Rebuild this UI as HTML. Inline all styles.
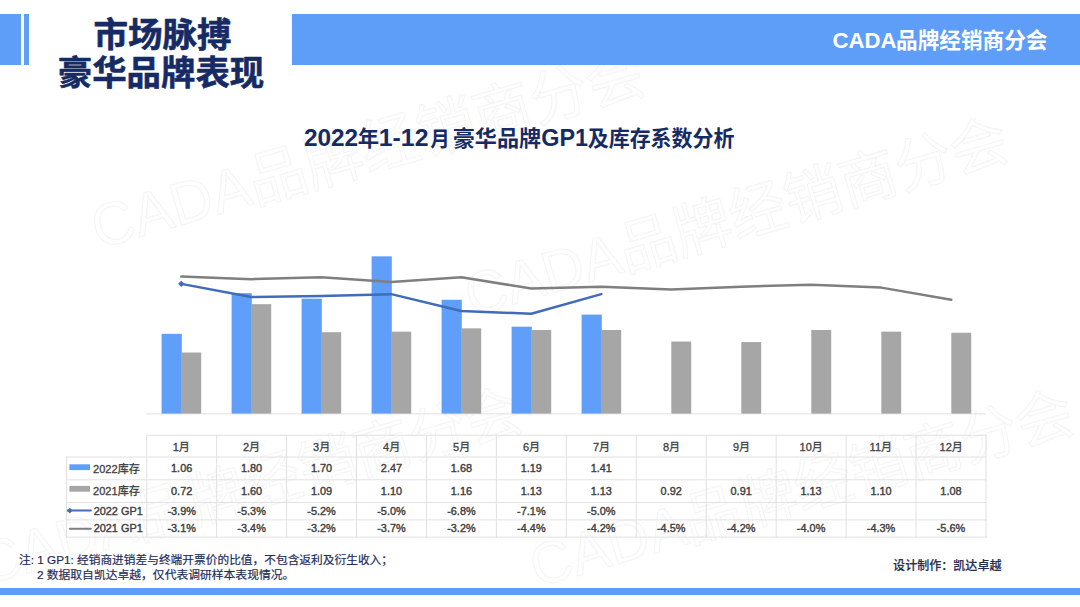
<!DOCTYPE html>
<html lang="zh-CN">
<head>
<meta charset="utf-8">
<title>市场脉搏 豪华品牌表现</title>
<style>
html,body{margin:0;padding:0;background:#fff;}
body{width:1080px;height:607px;overflow:hidden;position:relative;font-family:"Liberation Sans",sans-serif;}
.page{position:absolute;left:0;top:0;width:1080px;height:607px;background:#fff;overflow:hidden;}
.blk{position:absolute;background:#5f9ef8;}
svg.ov{position:absolute;left:0;top:0;}
svg.ov text{font-family:"Liberation Sans","Noto Sans CJK SC",sans-serif;}
.dt{position:absolute;left:66.5px;top:435.3px;display:grid;grid-template-columns:80.20px repeat(12,69.94px);grid-template-rows:21.70px 22.80px 22.70px 17.40px 17.20px;font-size:10.9px;line-height:12px;color:#404040;-webkit-text-stroke:0.4px #404040;white-space:nowrap;}
.dt>div{display:flex;align-items:center;justify-content:center;padding-bottom:0.9px;box-sizing:border-box;}
.dt>div.lab{justify-content:flex-start;padding-left:27.2px;}
</style>
</head>
<body>
<div class="page">
<svg class="ov" width="1080" height="607" viewBox="0 0 1080 607" aria-hidden="true">
<text transform="translate(98.6 248.9) rotate(-16)" x="0" y="0" font-size="60" fill="none" stroke="#f5f5f5" stroke-width="1.2" textLength="572.5" lengthAdjust="spacingAndGlyphs">CADA品牌经销商分会</text>
<text transform="translate(472 316.8) rotate(-16.4)" x="0" y="0" font-size="59" fill="none" stroke="#f5f5f5" stroke-width="1.18" textLength="563" lengthAdjust="spacingAndGlyphs">CADA品牌经销商分会</text>
<text transform="translate(537 587.6) rotate(-16.2)" x="0" y="0" font-size="59" fill="none" stroke="#f5f5f5" stroke-width="1.18" textLength="563" lengthAdjust="spacingAndGlyphs">CADA品牌经销商分会</text>
<text transform="translate(-14 585) rotate(-16.2)" x="0" y="0" font-size="59" fill="none" stroke="#f5f5f5" stroke-width="1.18" textLength="563" lengthAdjust="spacingAndGlyphs">CADA品牌经销商分会</text>
</svg>
<div class="blk" style="left:0;top:14.2px;width:21.1px;height:50.4px"></div>
<div class="blk" style="left:24.1px;top:14.2px;width:5.2px;height:50.4px"></div>
<div class="blk" style="left:292.2px;top:14.2px;width:787.8px;height:50.4px"></div>
<div class="blk" style="left:0;top:587.8px;width:1080px;height:7px"></div>
<svg class="ov" width="1080" height="607" viewBox="0 0 1080 607">
<text x="93.42" y="46.55" font-size="34.5" font-weight="bold" fill="#162a64" stroke="#162a64" stroke-width="0.6" stroke-linejoin="round" textLength="138" lengthAdjust="spacingAndGlyphs">市场脉搏</text>
<text x="57.78" y="84.85" font-size="34.41" font-weight="bold" fill="#162a64" stroke="#162a64" stroke-width="0.6" stroke-linejoin="round" textLength="206.5" lengthAdjust="spacingAndGlyphs">豪华品牌表现</text>
<text x="832.5" y="47.7" font-size="22.5" font-weight="bold" fill="#ffffff" textLength="64" lengthAdjust="spacingAndGlyphs">CADA</text>
<text x="896.09" y="47.5" font-size="22" font-weight="bold" fill="#ffffff" textLength="151.3" lengthAdjust="spacingAndGlyphs">品牌经销商分会</text>
<text x="303.9" y="146.2" font-size="23.5" font-weight="bold" fill="#162a64" textLength="54.3" lengthAdjust="spacingAndGlyphs">2022</text>
<text x="357.81" y="146" font-size="21.3" font-weight="bold" fill="#162a64">年</text>
<text x="378.69" y="146.2" font-size="23.5" font-weight="bold" fill="#162a64" textLength="49.8" lengthAdjust="spacingAndGlyphs">1-12</text>
<text x="430.19" y="146" font-size="21" font-weight="bold" fill="#162a64" textLength="19.5" lengthAdjust="spacingAndGlyphs">月</text>
<text x="452.73" y="146" font-size="21.6" font-weight="bold" fill="#162a64" textLength="88.4" lengthAdjust="spacingAndGlyphs">豪华品牌</text>
<text x="541.32" y="146.2" font-size="23.5" font-weight="bold" fill="#162a64" textLength="46.8" lengthAdjust="spacingAndGlyphs">GP1</text>
<text x="587.68" y="146" font-size="21.2" font-weight="bold" fill="#162a64" textLength="146.9" lengthAdjust="spacingAndGlyphs">及库存系数分析</text>
<g><rect x="146.5" y="413.4" width="839.5" height="1" fill="#e1e1e1"/><rect x="161.6" y="333.84" width="20.2" height="79.76" fill="#5f9ef9"/><rect x="231.6" y="293.17" width="20.2" height="120.43" fill="#5f9ef9"/><rect x="301.6" y="298.67" width="20.2" height="114.93" fill="#5f9ef9"/><rect x="371.6" y="256.35" width="20.2" height="157.25" fill="#5f9ef9"/><rect x="441.6" y="299.77" width="20.2" height="113.83" fill="#5f9ef9"/><rect x="511.6" y="326.7" width="20.2" height="86.9" fill="#5f9ef9"/><rect x="581.6" y="314.61" width="20.2" height="98.99" fill="#5f9ef9"/><rect x="181.3" y="352.53" width="19.9" height="61.07" fill="#a6a6a6"/><rect x="251.3" y="304.16" width="19.9" height="109.44" fill="#a6a6a6"/><rect x="321.3" y="332.19" width="19.9" height="81.41" fill="#a6a6a6"/><rect x="391.3" y="331.64" width="19.9" height="81.96" fill="#a6a6a6"/><rect x="461.3" y="328.35" width="19.9" height="85.25" fill="#a6a6a6"/><rect x="531.3" y="330" width="19.9" height="83.6" fill="#a6a6a6"/><rect x="601.3" y="330" width="19.9" height="83.6" fill="#a6a6a6"/><rect x="671.3" y="341.54" width="19.9" height="72.06" fill="#a6a6a6"/><rect x="741.3" y="342.09" width="19.9" height="71.51" fill="#a6a6a6"/><rect x="811.3" y="330" width="19.9" height="83.6" fill="#a6a6a6"/><rect x="881.3" y="331.64" width="19.9" height="81.96" fill="#a6a6a6"/><rect x="951.3" y="332.74" width="19.9" height="80.86" fill="#a6a6a6"/><polyline points="181.3,276.38 251.3,279.19 321.3,277.32 391.3,282 461.3,277.32 531.3,288.54 601.3,286.67 671.3,289.48 741.3,286.67 811.3,284.8 881.3,287.61 951.3,299.76" fill="none" stroke="#7f7f7f" stroke-width="2.5" stroke-linejoin="round" stroke-linecap="round"/><polyline points="181.3,283.87 251.3,296.95 321.3,296.02 391.3,294.15 461.3,310.98 531.3,313.78 601.3,294.15" fill="none" stroke="#406cba" stroke-width="2.5" stroke-linejoin="round" stroke-linecap="round"/><path d="M178.1 283.87L181.3 280.67L184.5 283.87L181.3 287.06Z" fill="#406cba"/></g>
<g><rect x="69.4" y="464.3" width="20.6" height="5.8" fill="#5f9ef9"/><rect x="69.4" y="485.9" width="20.6" height="5.8" fill="#a6a6a6"/><path d="M67.4 510.6H90.8" stroke="#406cba" stroke-width="2" stroke-linecap="round"/><path d="M67 510.6L69.8 507.8L72.6 510.6L69.8 513.4Z" fill="#406cba"/><path d="M69.8 528.7H90.8" stroke="#7f7f7f" stroke-width="2" stroke-linecap="round"/></g>
<g fill="#e1e1e1"><rect x="146.2" y="434.8" width="1" height="102.8"/><rect x="216.14" y="434.8" width="1" height="102.8"/><rect x="286.08" y="434.8" width="1" height="102.8"/><rect x="356.02" y="434.8" width="1" height="102.8"/><rect x="425.96" y="434.8" width="1" height="102.8"/><rect x="495.9" y="434.8" width="1" height="102.8"/><rect x="565.84" y="434.8" width="1" height="102.8"/><rect x="635.78" y="434.8" width="1" height="102.8"/><rect x="705.72" y="434.8" width="1" height="102.8"/><rect x="775.66" y="434.8" width="1" height="102.8"/><rect x="845.6" y="434.8" width="1" height="102.8"/><rect x="915.54" y="434.8" width="1" height="102.8"/><rect x="985.48" y="434.8" width="1" height="102.8"/><rect x="66" y="456.5" width="1" height="81.1"/><rect x="146.2" y="434.8" width="840.28" height="1"/><rect x="66" y="456.5" width="920.48" height="1"/><rect x="66" y="479.3" width="920.48" height="1"/><rect x="66" y="502" width="920.48" height="1"/><rect x="66" y="519.4" width="920.48" height="1"/><rect x="66" y="536.6" width="920.48" height="1"/></g>
<g font-size="11" fill="#404040" stroke="#404040" stroke-width="0.3" stroke-linejoin="round">
<text x="172.73" y="450.9">1月</text>
<text x="242.99" y="450.9">2月</text>
<text x="313.05" y="450.9">3月</text>
<text x="383.09" y="450.9">4月</text>
<text x="453.05" y="450.9">5月</text>
<text x="522.91" y="450.9">6月</text>
<text x="592.92" y="450.9">7月</text>
<text x="662.95" y="450.9">8月</text>
<text x="732.97" y="450.9">9月</text>
<text x="799.6" y="450.9">10月</text>
<text x="869.6" y="450.9">11月</text>
<text x="939.6" y="450.9">12月</text>
<text x="93.09" y="472.57" textLength="46.7" lengthAdjust="spacingAndGlyphs">2022库存</text>
<text x="93.09" y="495.17" textLength="46.7" lengthAdjust="spacingAndGlyphs">2021库存</text>
</g>
<text x="19.1" y="563.94" font-size="11.81" fill="#1e2c5a" stroke="#1e2c5a" stroke-width="0.19" stroke-linejoin="round" textLength="373.9" lengthAdjust="spacingAndGlyphs">注: 1 GP1: 经销商进销差与终端开票价的比值，不包含返利及衍生收入；</text>
<text x="36.93" y="579.15" font-size="11.81" fill="#1e2c5a" stroke="#1e2c5a" stroke-width="0.19" stroke-linejoin="round" textLength="257.4" lengthAdjust="spacingAndGlyphs">2 数据取自凯达卓越，仅代表调研样本表现情况。</text>
<text x="893.12" y="570.36" font-size="12.04" font-weight="500" fill="#252e4e" stroke="#252e4e" stroke-width="0.17" textLength="108.4" lengthAdjust="spacingAndGlyphs">设计制作：凯达卓越</text>
</svg>
<div class="dt" role="table">
<div class="lab"></div><div></div><div></div><div></div><div></div><div></div><div></div><div></div><div></div><div></div><div></div><div></div><div></div>
<div class="lab"></div><div>1.06</div><div>1.80</div><div>1.70</div><div>2.47</div><div>1.68</div><div>1.19</div><div>1.41</div><div></div><div></div><div></div><div></div><div></div>
<div class="lab"></div><div>0.72</div><div>1.60</div><div>1.09</div><div>1.10</div><div>1.16</div><div>1.13</div><div>1.13</div><div>0.92</div><div>0.91</div><div>1.13</div><div>1.10</div><div>1.08</div>
<div class="lab">2022 GP1</div><div>-3.9%</div><div>-5.3%</div><div>-5.2%</div><div>-5.0%</div><div>-6.8%</div><div>-7.1%</div><div>-5.0%</div><div></div><div></div><div></div><div></div><div></div>
<div class="lab">2021 GP1</div><div>-3.1%</div><div>-3.4%</div><div>-3.2%</div><div>-3.7%</div><div>-3.2%</div><div>-4.4%</div><div>-4.2%</div><div>-4.5%</div><div>-4.2%</div><div>-4.0%</div><div>-4.3%</div><div>-5.6%</div>
</div>
</div>
</body>
</html>
